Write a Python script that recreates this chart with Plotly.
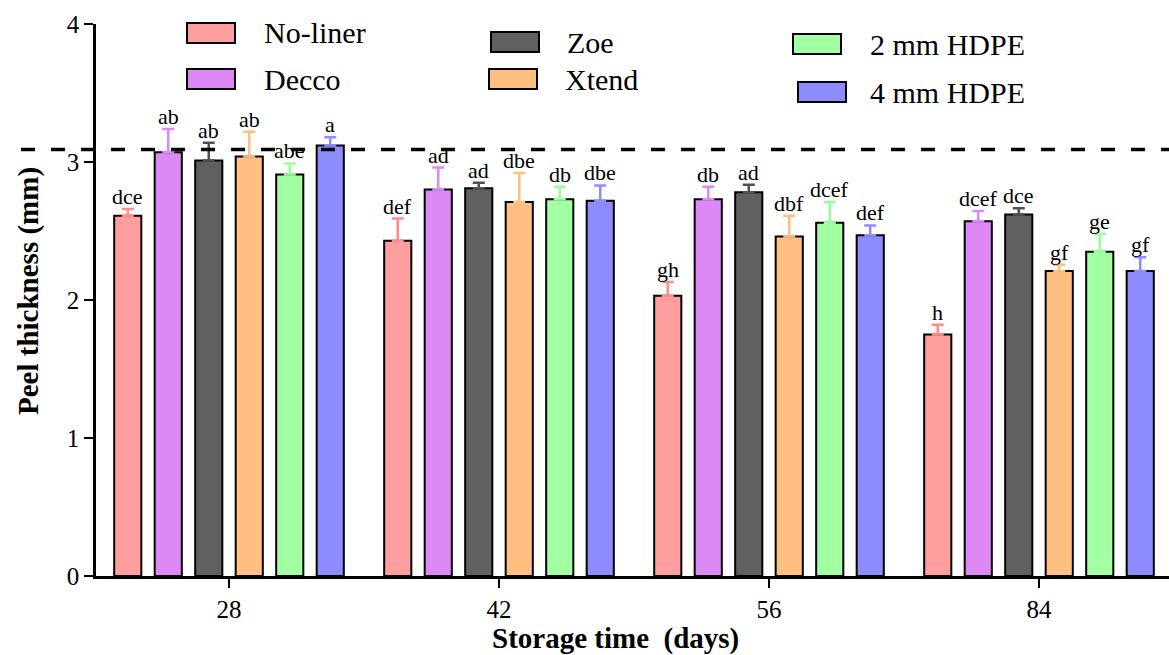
import plotly.graph_objects as go

days = ["28", "42", "56", "84"]
series = ["No-liner", "Decco", "Zoe", "Xtend", "2 mm HDPE", "4 mm HDPE"]

no_liner = [2.61, 2.43, 2.03, 1.75]
decco = [3.07, 2.80, 2.73, 2.57]
zoe = [3.01, 2.81, 2.78, 2.62]
xtend = [3.04, 2.71, 2.46, 2.21]
hdpe2 = [2.91, 2.73, 2.56, 2.35]
hdpe4 = [3.12, 2.72, 2.47, 2.21]

err_no_liner = [0.05, 0.16, 0.10, 0.07]
err_decco = [0.17, 0.16, 0.09, 0.075]
err_zoe = [0.13, 0.04, 0.055, 0.045]
err_xtend = [0.18, 0.21, 0.15, 0.045]
err_hdpe2 = [0.08, 0.09, 0.15, 0.13]
err_hdpe4 = [0.06, 0.11, 0.07, 0.10]

lab_no_liner = ["dce", "def", "gh", "h"]
lab_decco = ["ab", "ad", "db", "dcef"]
lab_zoe = ["ab", "ad", "ad", "dce"]
lab_xtend = ["ab", "dbe", "dbf", "gf"]
lab_hdpe2 = ["abe", "db", "dcef", "ge"]
lab_hdpe4 = ["a", "dbe", "def", "gf"]

reference_line = 3.09
x_title = "Storage time  (days)"
y_title = "Peel thickness (mm)"

values = [no_liner, decco, zoe, xtend, hdpe2, hdpe4]
errors = [err_no_liner, err_decco, err_zoe, err_xtend, err_hdpe2, err_hdpe4]
labels = [lab_no_liner, lab_decco, lab_zoe, lab_xtend, lab_hdpe2, lab_hdpe4]
colors = ["#FF9E9E", "#DD88F5", "#606060", "#FFBF80", "#A2FFA2", "#8C8CFF"]
err_colors = ["#FF8C8C", "#DD88F5", "#505050", "#FFBF80", "#98FF98", "#8C8CFF"]

SERIF = "Liberation Serif, Times New Roman, serif"

fig = go.Figure()
for j, name in enumerate(series):
    fig.add_trace(go.Bar(
        x=days, y=values[j], name=name,
        marker=dict(color=colors[j], line=dict(color="black", width=2)),
        error_y=dict(type="data", array=errors[j], arrayminus=[0] * len(days),
                     symmetric=False, color=err_colors[j], thickness=2.5, width=6),
        showlegend=False,
    ))

ngroups = len(series)
bargap = 0.1
pitch = (1 - bargap) / ngroups
annotations = []
for j in range(ngroups):
    off = (j - (ngroups - 1) / 2) * pitch
    for i in range(len(days)):
        annotations.append(dict(
            x=i + off, y=values[j][i] + errors[j][i], xref="x", yref="y",
            text=labels[j][i], showarrow=False, yanchor="bottom", yshift=-2,
            font=dict(family=SERIF, size=22, color="black"),
        ))

# plot area geometry (pixels) for legend / title placement
L, T, W, H = 96, 24, 1169 - 96, 576 - 24
def px(x):
    return (x - L) / W
def py(y):
    return (T + H - y) / H

legend_pos = [(187, 23, 262), (187, 69, 262), (491, 32, 565), (489, 69, 563), (793, 34, 868), (798, 82, 868)]
shapes = []
for j, name in enumerate(series):
    lx, ty, tx = legend_pos[j]
    shapes.append(dict(type="rect", xref="paper", yref="paper",
                       x0=px(lx), x1=px(lx + 48), y0=py(ty + 20), y1=py(ty),
                       fillcolor=colors[j], line=dict(color="black", width=2)))
    annotations.append(dict(x=px(tx), y=py(ty + 10), xref="paper", yref="paper",
                            text=name, showarrow=False, xanchor="left", yanchor="middle",
                            font=dict(family=SERIF, size=30, color="black")))

annotations.append(dict(x=px(615), y=py(638), xref="paper", yref="paper",
                        text="<b>" + x_title + "</b>", showarrow=False,
                        xanchor="center", yanchor="middle",
                        font=dict(family=SERIF, size=29, color="black")))
annotations.append(dict(x=px(28), y=py(291), xref="paper", yref="paper",
                        text="<b>" + y_title + "</b>", showarrow=False, textangle=-90,
                        xanchor="center", yanchor="middle",
                        font=dict(family=SERIF, size=29, color="black")))

shapes.append(dict(type="line", xref="paper", yref="y", x0=px(21), x1=1.0,
                   y0=reference_line, y1=reference_line,
                   line=dict(color="black", width=3.5, dash="14px,16px")))

fig.update_layout(
    width=1169, height=655,
    margin=dict(l=L, r=0, t=T, b=655 - 576),
    plot_bgcolor="white", paper_bgcolor="white",
    barmode="group", bargap=bargap, bargroupgap=0.33,
    shapes=shapes, annotations=annotations,
    xaxis=dict(type="category", range=[-0.4926, 3.4815], automargin=False,
               showline=True, linecolor="black", linewidth=2.5,
               ticks="outside", ticklen=9, tickwidth=1.5, tickcolor="black",
               tickfont=dict(family=SERIF, size=25, color="black"),
               showgrid=False, zeroline=False),
    yaxis=dict(range=[0, 4], dtick=1, automargin=False,
               showline=True, linecolor="black", linewidth=2.5,
               ticks="outside", ticklen=9, tickwidth=1.5, tickcolor="black",
               tickfont=dict(family=SERIF, size=25, color="black"),
               showgrid=False, zeroline=False),
)

fig.write_html("out.html", config={"displayModeBar": False},
               post_script="document.body.style.margin='0';document.body.style.overflow='hidden';")
